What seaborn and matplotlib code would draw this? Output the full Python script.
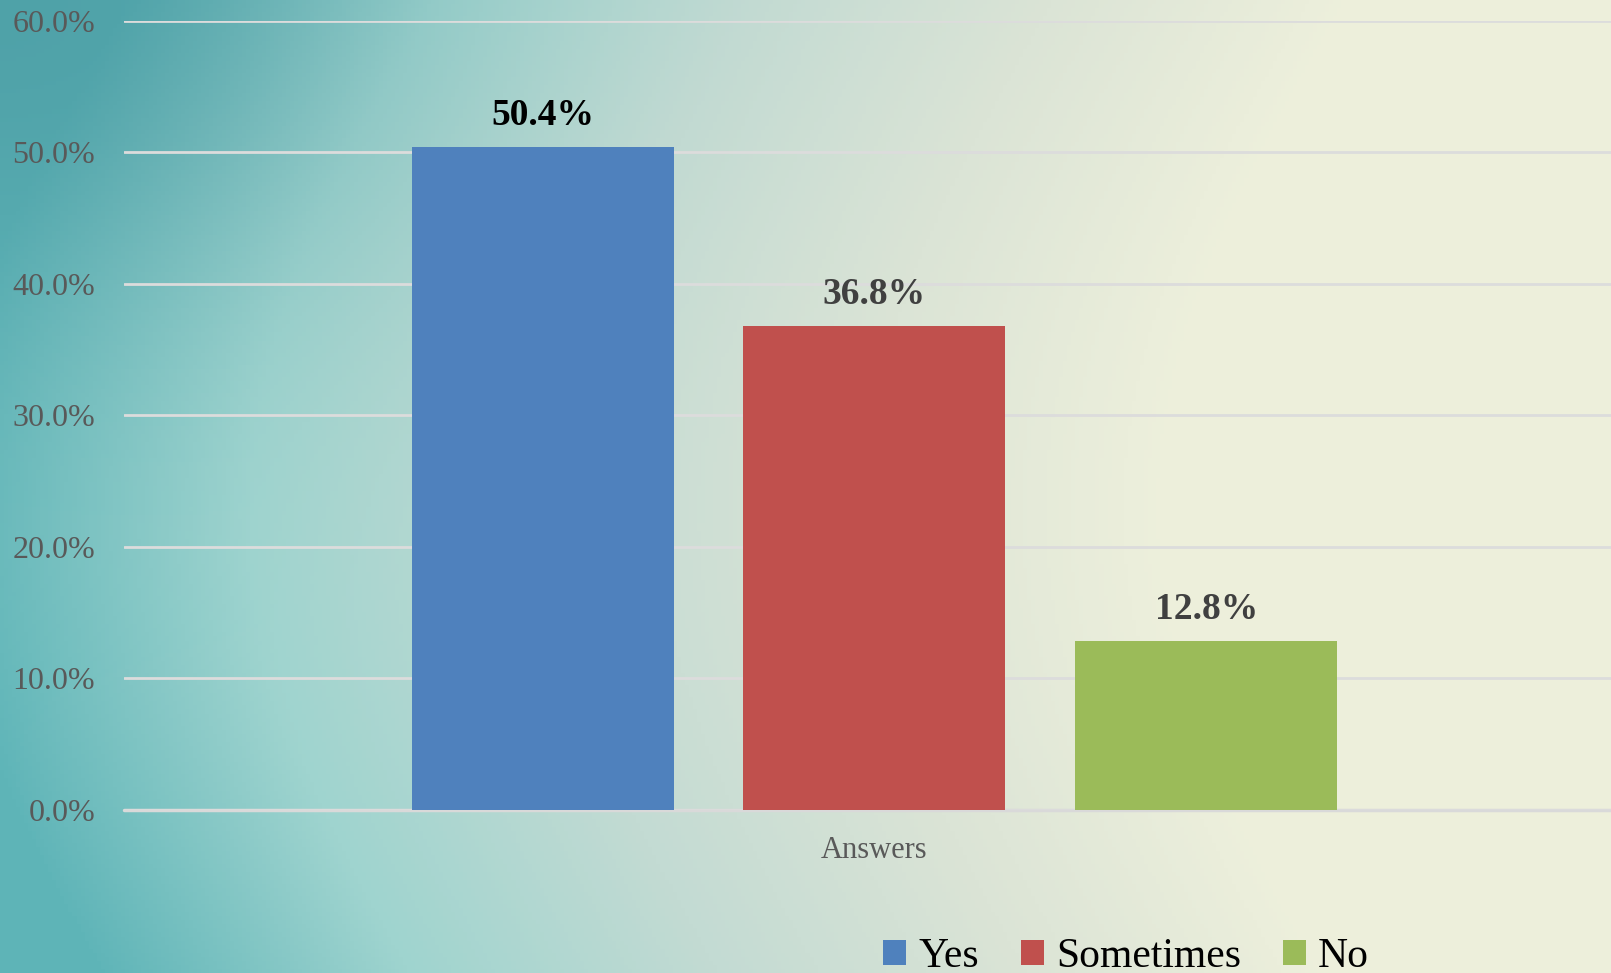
import numpy as np
import pandas as pd
import matplotlib.pyplot as plt
import seaborn as sns
from matplotlib.colors import LinearSegmentedColormap

# Data
answers = ['Yes', 'Sometimes', 'No']
percent = [50.4, 36.8, 12.8]
group = 'Answers'
colors = ['#4F81BD', '#C0504D', '#9BBB59']
label_colors = ['#000000', '#404040', '#404040']

df = pd.DataFrame({'group': [group] * len(answers), 'answer': answers, 'pct': percent})

sns.set_style('white')
plt.rcParams['font.family'] = ['Liberation Serif', 'DejaVu Serif']

fig = plt.figure(figsize=(16.11, 9.73), dpi=100)

# background gradient (teal on the left fading to cream on the right)
bg = fig.add_axes([0, 0, 1, 1], zorder=-10)
xx, yy = np.meshgrid(np.linspace(0, 1, 400), np.linspace(0, 1, 240))
t = np.clip(xx * 1.3 - 0.1 + 0.15 * np.sin(yy * 3), 0, 1)
cmap = LinearSegmentedColormap.from_list('bg', ['#5fb5b8', '#9fd4cf', '#c3dbd3', '#dbe4d6', '#eef0dc'])
img = cmap(t)
corner = np.exp(-((xx / 0.25) ** 2 + (yy / 0.3) ** 2))
img[..., :3] = img[..., :3] * (1 - 0.35 * corner[..., None]) + np.array([0.2, 0.5, 0.55]) * 0.35 * corner[..., None]
bg.imshow(img, aspect='auto', extent=[0, 1, 0, 1], origin='upper')
bg.axis('off')

ax = fig.add_axes([0.0772, 0.1679, 0.9228, 0.811])
ax.patch.set_alpha(0)
sns.barplot(data=df, x='group', y='pct', hue='answer', palette=colors,
            saturation=1, width=0.664, gap=0.21, linewidth=0, ax=ax, legend=True)

ax.set_ylim(0, 60)
ax.set_xlim(-0.5003, 0.4914)
ax.set_yticks(range(0, 61, 10))
ax.set_yticklabels([f'{v:.1f}%' for v in range(0, 61, 10)])
ax.yaxis.grid(True, color='#dcdcdc', linewidth=2)
ax.set_axisbelow(True)
ax.axhline(0, color='#d9d9d9', linewidth=2.5, clip_on=False, zorder=0.5)
for s in ax.spines.values():
    s.set_visible(False)
ax.tick_params(axis='y', length=0, pad=21, labelsize=23, labelcolor='#595959')
ax.tick_params(axis='x', length=0, pad=19, labelsize=22, labelcolor='#595959')
ax.set_xlabel('')
ax.set_ylabel('')

for bar, val, c in zip(ax.patches, percent, label_colors):
    ax.annotate(f'{val}%', (bar.get_x() + bar.get_width() / 2, bar.get_height()),
                xytext=(0, 10), textcoords='offset points', ha='center', va='bottom',
                fontsize=27, fontweight='bold', color=c)

handles, labels = ax.get_legend_handles_labels()
ax.get_legend().remove()
fig.legend(handles, labels, loc='upper center', bbox_to_anchor=(0.699, 0.058), ncol=3,
           frameon=False, fontsize=30, handlelength=0.55, handleheight=0.55,
           handletextpad=0.3, columnspacing=1.0, borderpad=0, labelcolor='#000000')

fig.savefig('out.png', dpi=100)
